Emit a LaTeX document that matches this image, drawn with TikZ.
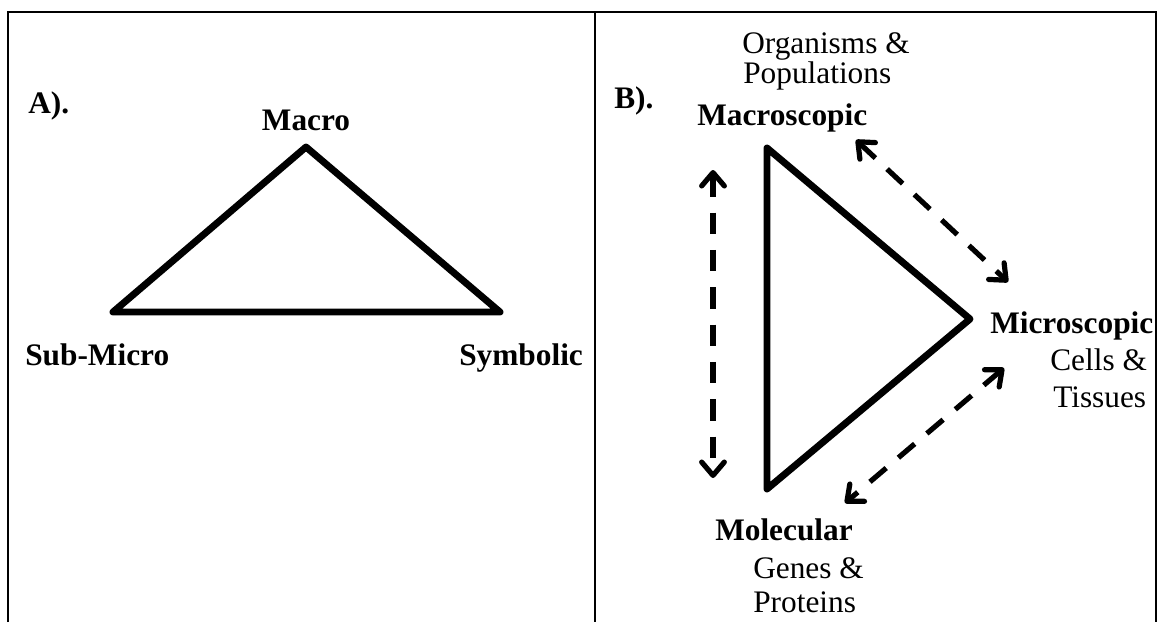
\documentclass[tikz,border=0pt]{standalone}
\usepackage{fontspec}
\setmainfont{Liberation Serif}
\usetikzlibrary{arrows.meta}
\begin{document}
\begin{tikzpicture}[x=0.75pt,y=-0.75pt,
  lbl/.style={inner sep=0pt,font=\fontsize{23.5}{28}\selectfont},
  blbl/.style={lbl,font=\fontsize{23.5}{28}\selectfont\bfseries},
  frame/.style={line width=1.8pt},
  tri/.style={line width=5.2pt,line join=round,fill=white},
  dasharrow/.style={line width=3.9pt,dash pattern=on 16pt off 12pt,
     {Straight Barb[length=10pt,width=17pt,line width=3.9pt,round]}-{Straight Barb[length=10pt,width=17pt,line width=3.9pt,round]}}]
\useasboundingbox (0,0) rectangle (1159,622);
\fill[white] (0,0) rectangle (1159,622);
% frame
\coordinate (tl) at (8,12);
\coordinate (tr) at (1156,12);
\coordinate (bl) at (8,622);
\coordinate (br) at (1156,622);
\coordinate (mt) at (595,12);
\coordinate (mb) at (595,622);
\draw[frame] (bl) -- (tl) -- (tr) -- (br);
\draw[frame] (mt) -- (mb);
% panel A
\coordinate (aTop) at (306,147);
\coordinate (aLeft) at (113,312);
\coordinate (aRight) at (500,312);
\draw[tri] (aTop) -- (aLeft) -- (aRight) -- cycle;
\node[blbl,anchor=base west] (labA) at (28,113) {A).};
\node[blbl,anchor=base] (macro) at (306,130) {Macro};
\node[blbl,anchor=base west] (submicro) at (25,365) {Sub-Micro};
\node[blbl,anchor=base west] (symbolic) at (459,365) {Symbolic};
% panel B
\coordinate (bTop) at (767,148);
\coordinate (bBot) at (767,489);
\coordinate (bRight) at (970,319);
\draw[tri] (bTop) -- (bRight) -- (bBot) -- cycle;
\node[blbl,anchor=base west] (labB) at (614,108) {B).};
\node[lbl,anchor=base west] (org) at (742,53) {Organisms \&};
\node[lbl,anchor=base west] (pop) at (743,83) {Populations};
\node[blbl,anchor=base west] (macroscopic) at (697,125) {Macroscopic};
\node[blbl,anchor=base west] (microscopic) at (990,333) {Microscopic};
\node[lbl,anchor=base west] (cells) at (1050,370) {Cells \&};
\node[lbl,anchor=base west] (tissues) at (1053,407) {Tissues};
\node[blbl,anchor=base west] (molecular) at (715,540) {Molecular};
\node[lbl,anchor=base west] (genes) at (753,578) {Genes \&};
\node[lbl,anchor=base west] (proteins) at (753,612) {Proteins};
% dashed arrows
\coordinate (v1) at (713,170);
\coordinate (v2) at (713,478);
\coordinate (d1) at (856,140);
\coordinate (d2) at (1008,282);
\coordinate (e1) at (1004,368);
\coordinate (e2) at (845,503);
\draw[dasharrow] (v1) -- (v2);
\draw[dasharrow] (d1) -- (d2);
\draw[dasharrow] (e1) -- (e2);
\end{tikzpicture}
\end{document}
